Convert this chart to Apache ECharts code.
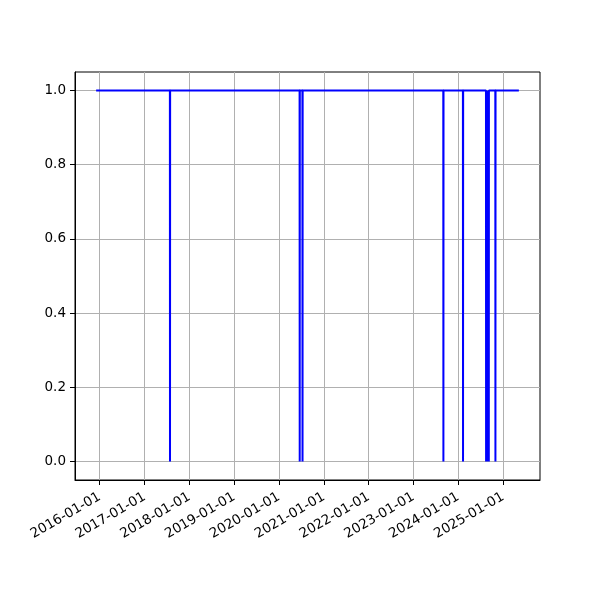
<!DOCTYPE html>
<html>
<head>
<meta charset="utf-8">
<script src="https://cdn.jsdelivr.net/npm/echarts@6/dist/echarts.min.js"></script>
<style>html,body{margin:0;padding:0;background:#fff}#c{width:600px;height:600px}</style>
</head>
<body>
<div id="c"></div>
<script>
const dates = [
  '2015-12-03',
  '2017-07-26','2017-07-27','2017-07-28',
  '2020-06-17','2020-06-18','2020-06-19',
  '2020-07-10','2020-07-11','2020-07-12',
  '2023-09-01','2023-09-02','2023-09-03',
  '2024-02-08','2024-02-09','2024-02-10',
  '2024-08-14','2024-08-15','2024-08-16',
  '2024-08-25','2024-08-26','2024-08-27',
  '2024-09-05','2024-09-06','2024-09-07',
  '2024-10-29','2024-10-30','2024-10-31',
  '2025-05-09'
];
const values = [
  1,
  1,0,1,
  1,0,1,
  1,0,1,
  1,0,1,
  1,0,1,
  1,0,1,
  1,0,1,
  1,0,1,
  1,0,1,
  1
];
const xTickLabels = ['2016-01-01','2017-01-01','2018-01-01','2019-01-01','2020-01-01',
  '2021-01-01','2022-01-01','2023-01-01','2024-01-01','2025-01-01'];
const yTicks = [0, 0.2, 0.4, 0.6, 0.8, 1.0];

const ts = d => new Date(d + 'T00:00:00Z').getTime();
const data = dates.map((d, i) => [ts(d), values[i]]);
const t0 = ts(dates[0]), t1 = ts(dates[dates.length - 1]);
const pad = (t1 - t0) * 0.05;
const xTickVals = xTickLabels.map(ts);
const font = 'DejaVu Sans';

const chart = echarts.init(document.getElementById('c'), null, {renderer: 'canvas'});
chart.setOption({
  animation: false,
  grid: {left: 75, right: 60, top: 72, bottom: 120, show: true, borderColor: '#000', borderWidth: 1, backgroundColor: 'transparent'},
  xAxis: {
    type: 'value',
    min: t0 - pad,
    max: t1 + pad,
    axisLine: {show: true, onZero: false, lineStyle: {color: '#000', width: 1}},
    axisTick: {show: true, length: 5, lineStyle: {color: '#000'}, customValues: xTickVals},
    axisLabel: {
      customValues: xTickVals,
      rotate: 30,
      margin: 16,
      color: '#000',
      fontFamily: font,
      fontSize: 13.5,
      formatter: v => {
        const d = new Date(v);
        const p = n => String(n).padStart(2, '0');
        return d.getUTCFullYear() + '-' + p(d.getUTCMonth() + 1) + '-' + p(d.getUTCDate());
      }
    },
    splitLine: {show: true, lineStyle: {color: '#b0b0b0', width: 1}}
  },
  yAxis: {
    type: 'value',
    min: -0.05,
    max: 1.05,
    axisLine: {show: true, onZero: false, lineStyle: {color: '#000', width: 1}},
    axisTick: {show: true, length: 5, lineStyle: {color: '#000'}, customValues: yTicks},
    axisLabel: {
      customValues: yTicks,
      margin: 9,
      color: '#000',
      fontFamily: font,
      fontSize: 13.5,
      formatter: v => v.toFixed(1)
    },
    splitLine: {show: true, lineStyle: {color: '#b0b0b0', width: 1}}
  },
  series: [{
    type: 'line',
    data: data,
    showSymbol: false,
    symbol: 'none',
    lineStyle: {color: '#0000ff', width: 2},
    itemStyle: {color: '#0000ff'}
  }]
});
</script>
</body>
</html>
